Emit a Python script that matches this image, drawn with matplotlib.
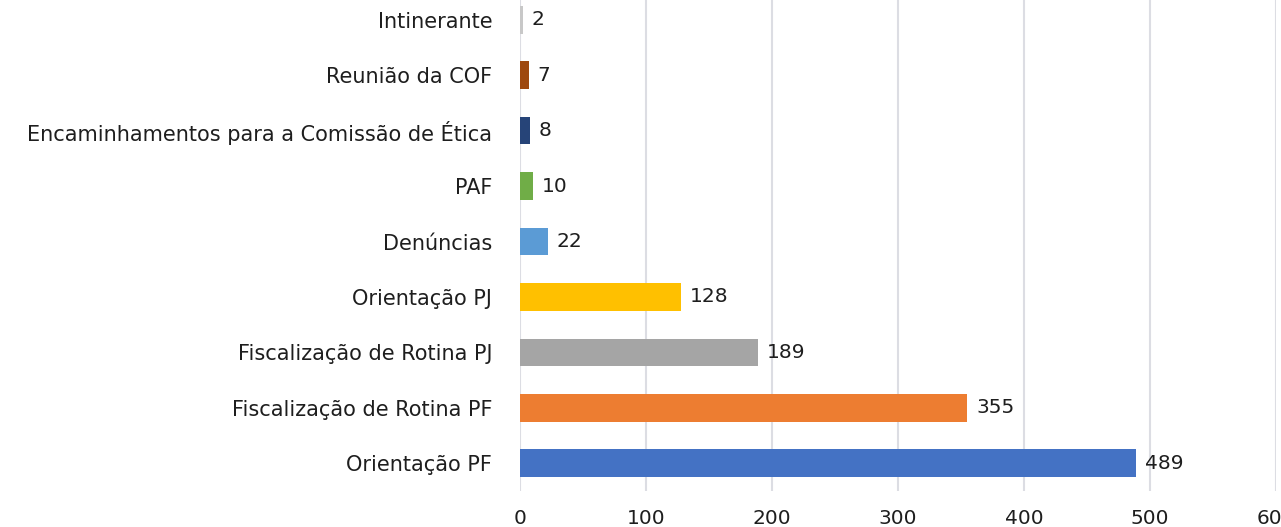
import matplotlib.pyplot as plt

categories = ['Orientação PF', 'Fiscalização de Rotina PF', 'Fiscalização de Rotina PJ',
              'Orientação PJ', 'Denúncias', 'PAF',
              'Encaminhamentos para a Comissão de Ética', 'Reunião da COF', 'Intinerante']
values = [489, 355, 189, 128, 22, 10, 8, 7, 2]
colors = ['#4472C4', '#ED7D31', '#A5A5A5', '#FFC000', '#5B9BD5', '#70AD47',
          '#264478', '#9E480E', '#C8C8C8']
xticks = [0, 100, 200, 300, 400, 500, 600]

txt = dict(fontsize=15, color='#1e1e1e')

fig = plt.figure(figsize=(12.81, 5.27), dpi=100)
ax = fig.add_axes([520 / 1281, 36 / 527, (1276 - 520) / 1281, 499 / 527])

ypos = range(len(categories))
ax.barh(ypos, values, height=0.5, color=colors, zorder=3)
for y, v in zip(ypos, values):
    ax.text(v + 7, y, str(v), va='center', ha='left', fontsize=14.5, color='#1e1e1e')

ax.set_xlim(0, 600)
ax.set_ylim(-0.5, len(categories) - 0.5)
ax.set_yticks(list(ypos))
ax.set_yticklabels(categories, **txt)
ax.set_xticks(xticks)
ax.set_xticklabels([str(t) for t in xticks], fontsize=14.5, color='#1e1e1e')
ax.tick_params(axis='y', length=0, pad=20)
ax.tick_params(axis='x', length=0, pad=13)
ax.grid(axis='x', color='#dcdde3', linewidth=1.5, zorder=0)
for s in ax.spines.values():
    s.set_visible(False)

fig.savefig('out.png', dpi=100)
